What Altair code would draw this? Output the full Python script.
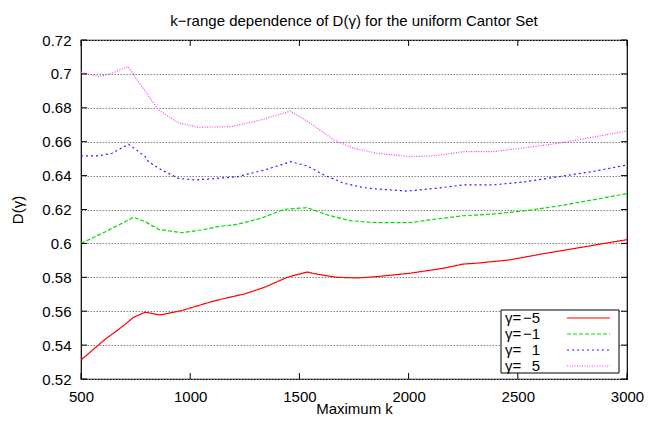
import altair as alt
import pandas as pd

# ---- data ----
series_names = ["γ=−5", "γ=−1", "γ= 1", "γ= 5"]
series_colors = ["#ff0000", "#00dd00", "#2020ff", "#ff33ff"]
series_dashes = [[1, 0], [4, 2], [2, 3], [1, 1.5]]

k_m5 = [500, 612, 673, 741, 794, 862, 960, 1021, 1097, 1173, 1249, 1340, 1445, 1536, 1582,
        1673, 1764, 1855, 2006, 2158, 2249, 2309, 2460, 2612, 2764, 2915, 3000]
d_m5 = [0.5312, 0.5436, 0.5493, 0.5564, 0.5594, 0.5578, 0.5603, 0.5627, 0.5656, 0.5680,
        0.5702, 0.5741, 0.5800, 0.5831, 0.5818, 0.5800, 0.5796, 0.5804, 0.5824, 0.5853,
        0.5878, 0.5883, 0.5902, 0.5938, 0.5971, 0.6004, 0.6022]

k_m1 = [500, 612, 741, 794, 855, 960, 1051, 1127, 1218, 1324, 1430, 1536, 1627, 1733, 1855,
        2006, 2127, 2249, 2385, 2536, 2688, 2840, 3000]
d_m1 = [0.6000, 0.6069, 0.6154, 0.6128, 0.6083, 0.6063, 0.6079, 0.6099, 0.6113, 0.6148,
        0.6201, 0.6211, 0.6168, 0.6134, 0.6122, 0.6122, 0.6144, 0.6163, 0.6173, 0.6193,
        0.6221, 0.6256, 0.6294]

k_p1 = [500, 582, 642, 718, 794, 809, 870, 945, 1021, 1127, 1218, 1340, 1460, 1536, 1612,
        1703, 1794, 1855, 1991, 2127, 2249, 2385, 2536, 2688, 2840, 3000]
d_p1 = [0.6516, 0.6517, 0.6532, 0.6585, 0.6512, 0.6482, 0.6433, 0.6384, 0.6374, 0.6384,
        0.6394, 0.6433, 0.6482, 0.6457, 0.6404, 0.6355, 0.6329, 0.6321, 0.6309, 0.6325,
        0.6345, 0.6345, 0.6364, 0.6394, 0.6423, 0.6463]

k_p5 = [500, 582, 642, 715, 779, 855, 945, 1036, 1188, 1324, 1458, 1551, 1658, 1749, 1855,
        2006, 2112, 2249, 2385, 2536, 2688, 2840, 3000]
d_p5 = [0.7010, 0.6984, 0.7004, 0.7043, 0.6925, 0.6787, 0.6712, 0.6685, 0.6689, 0.6728,
        0.6781, 0.6709, 0.6610, 0.6561, 0.6532, 0.6512, 0.6516, 0.6541, 0.6541, 0.6565,
        0.6591, 0.6626, 0.6663]

x_ticks = [500, 1000, 1500, 2000, 2500, 3000]
y_ticks = [0.52, 0.54, 0.56, 0.58, 0.60, 0.62, 0.64, 0.66, 0.68, 0.70, 0.72]

title_text = "k−range dependence of D(γ) for the uniform Cantor Set"
x_title = "Maximum k"
y_title = "D(γ)"

# ---- build tables ----
frames = []
for name, ks, ds in zip(series_names, [k_m5, k_m1, k_p1, k_p5], [d_m5, d_m1, d_p1, d_p5]):
    frames.append(pd.DataFrame({"k": ks, "D": ds, "series": name}))
df = pd.concat(frames, ignore_index=True)

xt = pd.DataFrame({"k": x_ticks})
yt = pd.DataFrame({"D": y_ticks})

W, H = 546, 339
FONT = "Liberation Sans"

x_scale = alt.Scale(domain=[500, 3000], nice=False, zero=False)
y_scale = alt.Scale(domain=[0.52, 0.72], nice=False, zero=False)

x_enc = alt.X("k:Q", scale=x_scale,
              axis=alt.Axis(values=x_ticks, format="d", title=x_title, grid=False,
                            ticks=False, tickSize=0, domain=False, labelPadding=10,
                            labelFlush=False, labelOverlap=False,
                            labelFontSize=15, labelFont=FONT, labelColor="black",
                            titleFontSize=15, titleFont=FONT, titleFontWeight="normal",
                            titleColor="black", titleBaseline="alphabetic",
                            titleY=34, titleX=W / 2, titleAlign="center"))
y_enc = alt.Y("D:Q", scale=y_scale,
              axis=alt.Axis(values=y_ticks, format="~g", title=y_title, grid=True,
                            gridColor="#808080", gridDash=[1.5, 1.5], gridWidth=1,
                            ticks=False, tickSize=0, domain=False, labelPadding=10,
                            labelFlush=False, labelOverlap=False,
                            labelFontSize=15, labelFont=FONT, labelColor="black",
                            titleFontSize=15, titleFont=FONT, titleFontWeight="normal",
                            titleColor="black", titleAngle=270, titleBaseline="middle",
                            titleAlign="center", titleX=-64, titleY=H / 2))

lines = alt.Chart(df).mark_line(strokeWidth=1.2, clip=True).encode(
    x=x_enc,
    y=y_enc,
    color=alt.Color("series:N", scale=alt.Scale(domain=series_names, range=series_colors),
                    legend=None),
    strokeDash=alt.StrokeDash("series:N",
                              scale=alt.Scale(domain=series_names, range=series_dashes),
                              legend=None),
    order=alt.Order("k:Q"),
)

tick_len = 6
ticks_left = alt.Chart(yt).mark_rule(color="black", strokeWidth=1).encode(
    y=y_enc, x=alt.value(0), x2=alt.value(tick_len))
ticks_right = alt.Chart(yt).mark_rule(color="black", strokeWidth=1).encode(
    y=y_enc, x=alt.value(W - tick_len), x2=alt.value(W))
ticks_bottom = alt.Chart(xt).mark_rule(color="black", strokeWidth=1).encode(
    x=x_enc, y=alt.value(H - tick_len), y2=alt.value(H))
ticks_top = alt.Chart(xt).mark_rule(color="black", strokeWidth=1).encode(
    x=x_enc, y=alt.value(0), y2=alt.value(tick_len))

# ---- legend (gnuplot style: label left, line sample right) ----
one = pd.DataFrame({"a": [0]})
box = alt.Chart(one).mark_rect(fill="white", stroke="black", strokeWidth=1).encode(
    x=alt.value(420), x2=alt.value(538), y=alt.value(270), y2=alt.value(333))
legend_layers = [box]
row_y = [278, 294, 310, 326]
legend_prefix = "γ="
legend_values = ["−5", "−1", "1", "5"]
for i, name in enumerate(series_names):
    lab = pd.DataFrame({"p": [legend_prefix], "v": [legend_values[i]]})
    legend_layers.append(
        alt.Chart(lab).mark_text(align="left", baseline="middle", fontSize=15, font=FONT,
                                 color="black").encode(
            text="p:N", x=alt.value(424), y=alt.value(row_y[i])))
    legend_layers.append(
        alt.Chart(lab).mark_text(align="right", baseline="middle", fontSize=15, font=FONT,
                                 color="black").encode(
            text="v:N", x=alt.value(459), y=alt.value(row_y[i])))
    legend_layers.append(
        alt.Chart(one).mark_rule(color=series_colors[i], strokeWidth=1.2,
                                 strokeDash=series_dashes[i]).encode(
            x=alt.value(486), x2=alt.value(529), y=alt.value(row_y[i])))

chart = alt.layer(lines, *legend_layers, ticks_left, ticks_right, ticks_bottom, ticks_top).properties(
    width=W, height=H,
    background="white",
    title=alt.TitleParams(title_text, fontSize=15, font=FONT, fontWeight="normal",
                          color="black", anchor="middle", offset=4),
    autosize=alt.AutoSizeParams(type="none"),
    padding={"left": 73, "top": 32, "right": 17, "bottom": 37},
).configure_view(stroke="black", strokeWidth=1.2)

chart.save("out.html", embed_options={"renderer": "svg", "actions": False})
